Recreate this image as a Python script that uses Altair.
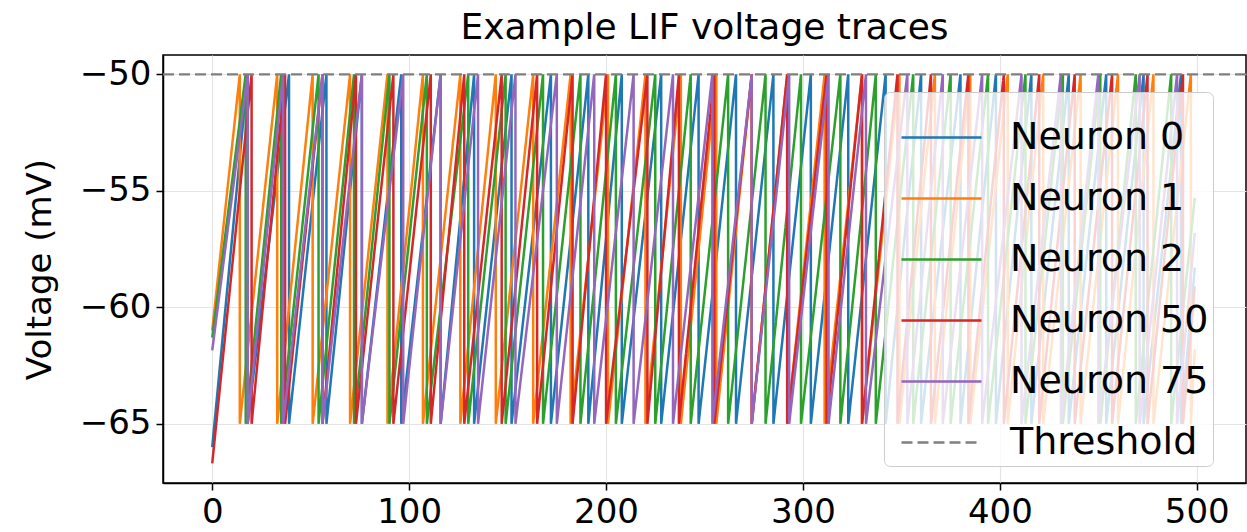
import altair as alt
import pandas as pd

# ---- data ----
series_names = ["Neuron 0", "Neuron 1", "Neuron 2", "Neuron 50", "Neuron 75"]
series_colors = ["#1f77b4", "#ff7f0e", "#2ca02c", "#d62728", "#9467bd"]

v_reset = -65.0
v_threshold = -50.0
t_end = 499

start_v = [-66.0, -61.0, -61.3, -66.7, -61.85]
end_v = [-58.3, -61.8, -55.3, -59.1, -56.8]

spikes_n0 = [18, 39, 58, 76, 96, 116, 133, 152, 172, 191, 208, 228, 247, 266, 285,
             304, 323, 342, 360, 380, 398, 416, 435, 454, 473, 492]
spikes_n1 = [14, 33, 51, 70, 89, 107, 126, 144, 163, 182, 201, 220, 238, 256, 274,
             292, 311, 330, 349, 367, 385, 404, 422, 441, 460, 478, 497]
spikes_n2 = [17, 35, 54, 72, 90, 109, 130, 149, 168, 187, 205, 225, 243, 262, 281,
             299, 319, 337, 356, 375, 394, 413, 432, 451, 469, 487]
spikes_n50 = [20, 37, 56, 73, 92, 111, 128, 147, 165, 183, 200, 221, 237, 255, 274,
              292, 312, 330, 348, 365, 384, 402, 420, 438, 457, 475, 493]
spikes_n75 = [18, 36, 56, 76, 97, 116, 135, 154, 175, 194, 214, 234, 254, 274, 293,
              313, 332, 353, 371, 391, 411, 431, 450, 471, 490]
all_spikes = [spikes_n0, spikes_n1, spikes_n2, spikes_n50, spikes_n75]

legend_labels = series_names + ["Threshold"]
legend_colors = series_colors + ["#7f7f7f"]
legend_dashes = [[1, 0]] * 5 + [[11, 5]]

x_ticks = [0, 100, 200, 300, 400, 500]
y_ticks = [-65, -60, -55, -50]

# ---- build table from the lists ----
rows = []
for name, spk, v0, v1 in zip(series_names, all_spikes, start_v, end_v):
    k = 0
    rows.append({"series": name, "t": 0, "v": v0, "k": k}); k += 1
    for s in spk:
        rows.append({"series": name, "t": s, "v": v_threshold, "k": k}); k += 1
        rows.append({"series": name, "t": s, "v": v_reset, "k": k}); k += 1
    rows.append({"series": name, "t": t_end, "v": v1, "k": k})
df = pd.DataFrame(rows)
thr = pd.DataFrame({"series": ["Threshold"], "v": [v_threshold]})

color_scale = alt.Scale(domain=legend_labels, range=legend_colors)
dash_scale = alt.Scale(domain=legend_labels, range=legend_dashes)

legend = alt.Legend(
    orient="none", legendX=721, legendY=37,
    symbolType="stroke", symbolSize=6400, symbolStrokeWidth=2.5, symbolOffset=12,
    labelFontSize=38, labelFont="DejaVu Sans", labelColor="black", labelLimit=400,
    labelExpr="datum.label + '\u00a0\u00a0\u00a0\u00a0'",
    labelOffset=27, rowPadding=-27, padding=4,
    fillColor="rgba(255,255,255,0.8)", strokeColor="#cccccc", cornerRadius=6,
)

x_enc = alt.X("t:Q", scale=alt.Scale(domain=[-25, 525], nice=False, zero=False),
              axis=alt.Axis(values=x_ticks, title=None, format="d"))
y_enc = alt.Y("v:Q", scale=alt.Scale(domain=[-67.54, -49.17], nice=False, zero=False),
              axis=alt.Axis(values=y_ticks, title="Voltage (mV)", format="d",
                            labelExpr="replace(datum.label, '-', '\u2212')"))

lines = alt.Chart(df).mark_line(strokeWidth=2.5).encode(
    x=x_enc, y=y_enc,
    color=alt.Color("series:N", scale=color_scale, legend=legend, title=None),
    strokeDash=alt.StrokeDash("series:N", scale=dash_scale, legend=legend, title=None),
    order=alt.Order("k:Q"),
)

threshold = alt.Chart(thr).mark_rule(strokeWidth=2.2).encode(
    y=alt.Y("v:Q"),
    color=alt.Color("series:N", scale=color_scale, legend=legend, title=None),
    strokeDash=alt.StrokeDash("series:N", scale=dash_scale, legend=legend, title=None),
)

chart = alt.layer(lines, threshold).properties(
    width=1083, height=428,
    autosize=alt.AutoSizeParams(type="none"),
    padding={"left": 163, "top": 55, "right": 1, "bottom": 49},
    title=alt.TitleParams("Example LIF voltage traces", fontSize=36, font="DejaVu Sans",
                          fontWeight="normal", color="black", offset=8),
).configure_view(
    stroke="black", strokeWidth=1.5
).configure_axis(
    labelFont="DejaVu Sans", labelFontSize=34, labelColor="black",
    titleFont="DejaVu Sans", titleFontSize=34, titleFontWeight="normal", titleColor="black",
    domainColor="black", domainWidth=1.5, tickColor="black", tickWidth=1.5, tickSize=7,
    labelPadding=5, titlePadding=22,
    grid=True, gridColor="#e4e4e4", gridWidth=1.2,
)

chart.save("out.html", embed_options={"renderer": "svg", "actions": False})
